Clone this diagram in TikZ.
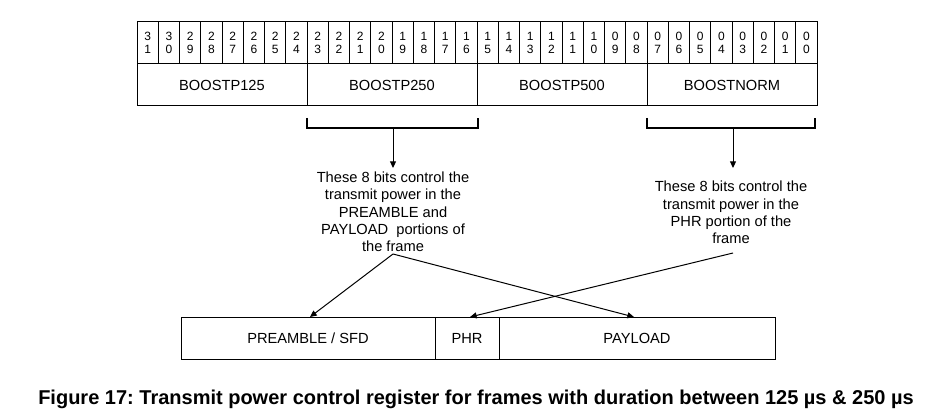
\documentclass[tikz,border=0pt]{standalone}
\usepackage{fontspec}
\setmainfont{Liberation Sans}
\usetikzlibrary{arrows.meta}
\frenchspacing
\begin{document}
\begin{tikzpicture}[x=0.75pt,y=-0.75pt,
  reg/.style={line width=0.75pt},
  lbl/.style={font=\fontsize{11}{13}\selectfont, align=center, inner sep=0pt},
  bitlbl/.style={font=\fontsize{9}{10.2}\selectfont, align=center, inner sep=0pt},
  arr/.style={line width=0.75pt, -{Triangle[length=5pt,width=4.5pt]}},
  brk/.style={line width=1pt}]
\useasboundingbox (0,0) rectangle (937,420);
% register
\draw[reg] (137,22) rectangle (817,106);
\draw[reg] (137,64) -- (817,64);
\foreach \i in {1,...,31} { \draw[reg] ({137+\i*21.25},22) -- ({137+\i*21.25},64); }
\foreach \x in {307,477,647} { \draw[reg] (\x,64) -- (\x,106); }
\foreach \i in {0,...,31} {
  \pgfmathtruncatemacro\bitn{31-\i}
  \pgfmathtruncatemacro\tensd{int(\bitn/10)}
  \pgfmathtruncatemacro\unitd{mod(\bitn,10)}
  \node[bitlbl] (bit\bitn) at ({137+(\i+0.5)*21.25},43) {\tensd\\\unitd};
}
\node[lbl] (f1) at (222,85) {BOOSTP125};
\node[lbl] (f2) at (392,85) {BOOSTP250};
\node[lbl] (f3) at (562,85) {BOOSTP500};
\node[lbl] (f4) at (732,85) {BOOSTNORM};
% brackets
\draw[brk] (307,118) -- (307,128) -- (478,128) -- (478,118);
\draw[brk] (647,118) -- (647,128) -- (815,128) -- (815,118);
\coordinate (c1) at (393,128);
\coordinate (a1) at (393,168);
\coordinate (c2) at (733,128);
\coordinate (a2) at (733,168);
\draw[arr] (c1) -- (a1);
\draw[arr] (c2) -- (a2);
% texts
\node[lbl, anchor=north] (t1) at (393,171.5) {These 8 bits control the\\transmit power in the\\PREAMBLE and\\PAYLOAD\ \ portions of\\the frame};
\node[lbl, anchor=north] (t2) at (731,181) {These 8 bits control the\\transmit power in the\\PHR portion of the\\frame};
% frame
\draw[reg] (181,317) rectangle (775,359);
\draw[reg] (435,317) -- (435,359);
\draw[reg] (499,317) -- (499,359);
\node[lbl] (pre) at (308,338) {PREAMBLE / SFD};
\node[lbl] (phr) at (467,338) {PHR};
\node[lbl] (pay) at (637,338) {PAYLOAD};
\coordinate (o1) at (393,254);
\coordinate (o2) at (733,253);
\coordinate (p1) at (310,317);
\coordinate (p2) at (634,317);
\coordinate (p3) at (470,317);
\draw[arr] (o1) -- (p1);
\draw[arr] (o1) -- (p2);
\draw[arr] (o2) -- (p3);
% caption
\node[font=\bfseries\fontsize{15}{18}\selectfont, anchor=base, inner sep=0pt] (cap) at (476,404) {Figure 17: Transmit power control register for frames with duration between 125 µs \& 250 µs};
\end{tikzpicture}
\end{document}
